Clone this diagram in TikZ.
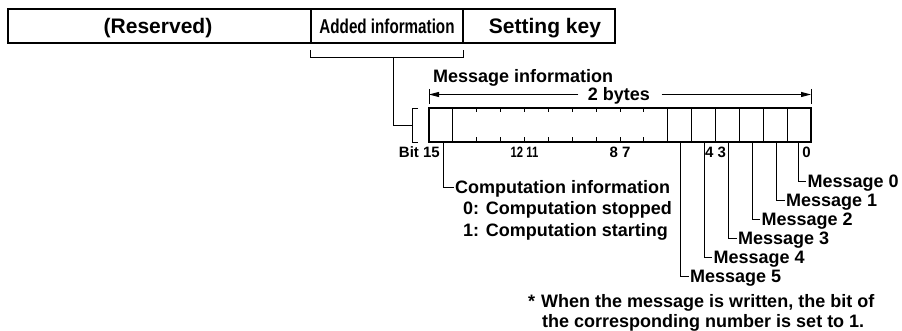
\documentclass[tikz,border=0pt]{standalone}
\usepackage{fontspec}
\setmainfont{Liberation Sans}
\usetikzlibrary{arrows.meta}
\begin{document}
\begin{tikzpicture}[x=1pt,y=-1pt,
  txt/.style={font=\bfseries\fontsize{18}{18}\selectfont, inner ysep=0pt, inner xsep=1.5pt, text height=12.9pt, text depth=0pt},
  toptxt/.style={font=\bfseries\fontsize{21}{21}\selectfont, inner sep=0pt, text height=15pt, text depth=0pt},
  bittxt/.style={font=\bfseries\fontsize{15}{15}\selectfont, inner sep=0pt, text height=10.7pt, text depth=0pt},
  topbox/.style={draw, line width=1.6pt, minimum height=34pt, inner sep=0pt},
  frame/.style={line width=1.6pt},
  cell/.style={line width=0.9pt},
  leader/.style={line width=0.9pt},
  arr/.style={line width=0.9pt, -{Triangle[length=10pt,width=5pt]}},
]
\useasboundingbox (0,0) rectangle (902,331);

% top bar
\node[topbox, minimum width=303pt] (res) at (159.5,26) {};
\node[topbox, minimum width=152pt] (add) at (387,26) {};
\node[topbox, minimum width=152pt] (key) at (539,26) {};
\node[toptxt] (rest) at (158,26) {(Reserved)};
\node[toptxt] (addt) at (387,26) {\scalebox{0.76}[1]{\fontsize{20}{20}\selectfont Added information}};
\node[toptxt] (keyt) at (545,26) {Setting key};

% bracket under added information
\draw[leader] (310,50) -- (310,57) -- (463,57) -- (463,50);
\coordinate (brk) at (393,57);
\coordinate (mbrk) at (412,125);
\draw[leader] (brk) |- (mbrk);

% register
\node[draw, frame, minimum width=382pt, minimum height=34pt, inner sep=0pt] (reg) at (620,125) {};
\foreach \k in {1,10,11,12,13,14,15}
  \draw[cell] ({429+\k*23.875},108) -- ++(0,34);
\foreach \k in {2,...,9}{
  \draw[cell] ({429+\k*23.875},108) -- ++(0,4.5);
  \draw[cell] ({429+\k*23.875},142) -- ++(0,-4.5);
}
\draw[leader] (418,108) -- (412,108) -- (412,142) -- (418,142);

% 2 bytes
\node[txt, anchor=west] (minfo) at (431.5,76) {Message information};
\node[txt] (twob) at (619,94) {2 bytes};
\draw[leader] (429,89) -- (429,104);
\draw[leader] (811,89) -- (811,104);
\coordinate (la) at (429,94.5);
\coordinate (ra) at (811,94.5);
\draw[arr] ([xshift=-8pt,yshift=-0.5pt]twob.west) -- (la);
\draw[arr] ([xshift=10pt,yshift=-0.5pt]twob.east) -- (ra);

% bit numbers
\node[bittxt, anchor=east] (b15) at (440,152) {Bit 15};
\node[bittxt] (b1211) at (524.5,152) {\scalebox{0.75}[1]{12 11}};
\node[bittxt] (b87) at (620,152) {8 7};
\node[bittxt] (b43) at (715.5,152) {4 3};
\node[bittxt, anchor=east] (b0) at (811,152) {0};

% computation information
\node[txt, anchor=west] (comp) at (453.5,187) {Computation information};
\node[txt, anchor=west] (c0) at (461.5,208.5) {0: Computation stopped};
\node[txt, anchor=west] (c1) at (461.5,230) {1: Computation starting};
\coordinate (l15) at (443,142);
\draw[leader] (l15) |- (comp.west);

% messages
\foreach \i/\lx/\yy in {0/798/181, 1/776.5/200, 2/752/219.5, 3/728.5/238, 4/704/257, 5/680.5/276}{
  \node[txt, anchor=west] (m\i) at ({\lx+8},\yy) {Message \i};
  \coordinate (l\i) at (\lx,142);
  \draw[leader] (l\i) |- (m\i.west);
}

% footnote
\node[txt, anchor=west, inner xsep=0pt] (fn1) at (528,301) {*\hspace{6pt}When the message is written, the bit of};
\node[txt, anchor=west, inner xsep=0pt] (fn2) at (542,321) {the corresponding number is set to 1.};
\end{tikzpicture}
\end{document}
